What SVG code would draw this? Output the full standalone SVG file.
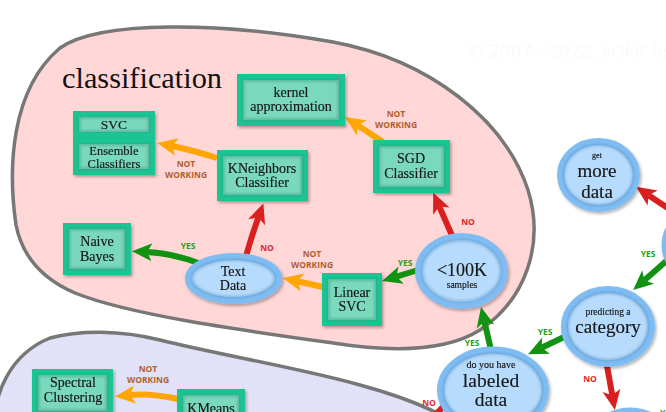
<svg xmlns="http://www.w3.org/2000/svg" width="666" height="412" viewBox="0 0 666 412">
<defs>
<style>
.blob{stroke:#777;stroke-width:3.5}
.sh{fill:none;stroke-width:6;stroke-linecap:butt}
.og{stroke:#ffa500}.gr{stroke:#119311}.rd{stroke:#d9201e}
.lb{font-family:"Open Sans","DejaVu Sans",sans-serif;font-weight:bold;font-size:8.5px;text-anchor:middle}
.nw{fill:#b0602e}.ys{fill:#26a017}.no{fill:#dd2a2a}
.nt{font-family:"Liberation Serif","Times New Roman",serif;font-size:14px;fill:#141414;stroke:#141414;stroke-width:0.15;text-anchor:middle}
rect.b{fill:#7ad8bd;stroke:#1cc493;stroke-width:6}
rect.s{fill:none;stroke:#2f8f72;stroke-width:2.5;opacity:.45}
ellipse.b{fill:#b6dbfc;stroke:#7ebcf2;stroke-width:7}
ellipse.s{fill:none;stroke:#4f86b8;stroke-width:2.5;opacity:.4}
</style>
<filter id="sh" x="-20%" y="-20%" width="140%" height="140%"><feDropShadow dx="1.5" dy="2" stdDeviation="1.5" flood-color="#000" flood-opacity="0.3"/></filter>
<filter id="bl" x="-10%" y="-10%" width="120%" height="120%"><feGaussianBlur stdDeviation="1"/></filter>
<marker id="mg" markerUnits="userSpaceOnUse" viewBox="0 -10 22 20" markerWidth="22" markerHeight="20" refX="5" refY="0" orient="auto" overflow="visible"><path d="M0,-9 L20,0 L0,9 L5,0 Z" fill="#119311"/></marker>
<marker id="mo" markerUnits="userSpaceOnUse" viewBox="0 -10 22 20" markerWidth="22" markerHeight="20" refX="5" refY="0" orient="auto" overflow="visible"><path d="M0,-9 L20,0 L0,9 L5,0 Z" fill="#ffa500"/></marker>
<marker id="mr" markerUnits="userSpaceOnUse" viewBox="0 -10 22 20" markerWidth="22" markerHeight="20" refX="5" refY="0" orient="auto" overflow="visible"><path d="M0,-9 L20,0 L0,9 L5,0 Z" fill="#d9201e"/></marker>
</defs>
<rect width="666" height="412" fill="#fff"/>
<text x="468" y="57" font-family="Open Sans, DejaVu Sans, sans-serif" font-size="19" fill="#fafafa">© 2007 - 2022, scikit-learn developers (BSD License).</text>

<g id="classification-region">
<path class="blob" fill="#ffd7d7" d="M16,225 C8,170 10,90 60,48 C100,20 220,22 333,42 C430,60 505,120 528,190 C545,245 525,300 480,330 C445,352 390,352 333,343 C240,330 130,315 75,293 C40,278 22,255 16,225 Z"/>
<text x="62" y="88" font-family="Liberation Serif, Times New Roman, serif" font-size="30" fill="#111" textLength="160" lengthAdjust="spacingAndGlyphs">classification</text>
</g>
<g id="clustering-region">
<path class="blob" fill="#e1e1f7" d="M-6,420 C-4,395 8,355 50,338 C80,330 120,330 160,340 C220,355 300,368 360,385 C400,396 430,408 450,420 Z"/>
</g>

<g id="connectors">
<path class="sh og" d="M217,158 Q192,150 172,146" marker-end="url(#mo)"/>
<text class="lb nw" x="186" y="167">NOT</text><text class="lb nw" x="186" y="178">WORKING</text>
<path class="sh og" d="M383,142 L357.6,125.2" marker-end="url(#mo)"/>
<text class="lb nw" x="396" y="117">NOT</text><text class="lb nw" x="396" y="128">WORKING</text>
<path class="sh rd" d="M454,240 L439.3,206.6" marker-end="url(#mr)"/>
<text class="lb no" x="468" y="225">NO</text>
<path class="sh gr" d="M418,270 L396.4,276.6" marker-end="url(#mg)"/>
<text class="lb ys" x="405" y="266">YES</text>
<path class="sh og" d="M323,287 L297.6,281.3" marker-end="url(#mo)"/>
<text class="lb nw" x="312" y="257">NOT</text><text class="lb nw" x="312" y="268">WORKING</text>
<path class="sh rd" d="M246,256 Q252,235 258.3,217.5" marker-end="url(#mr)"/>
<text class="lb no" x="267" y="251">NO</text>
<path class="sh gr" d="M198,263 C180,256 165,253 147,252" marker-end="url(#mg)"/>
<text class="lb ys" x="188" y="249">YES</text>
<path class="sh gr" d="M491,350 L484.4,321.6" marker-end="url(#mg)"/>
<text class="lb ys" x="472" y="346">YES</text>
<path class="sh gr" d="M564,337 L541.6,347.8" marker-end="url(#mg)"/>
<text class="lb ys" x="545" y="335">YES</text>
<path class="sh gr" d="M672,256 L644.4,280.2" marker-end="url(#mg)"/>
<text class="lb ys" x="648" y="257">YES</text>
<path class="sh rd" d="M672,211 L648.5,195.2" marker-end="url(#mr)"/>
<path class="sh rd" d="M607,366 L612.3,395.3" marker-end="url(#mr)"/>
<text class="lb no" x="590" y="382">NO</text>
<path class="sh rd" d="M447,403 L428,422" marker-end="url(#mr)"/>
<text class="lb no" x="429" y="406">NO</text>
<path class="sh og" d="M178,399 Q150,393 130,395" marker-end="url(#mo)"/>
<text class="lb nw" x="148" y="372">NOT</text><text class="lb nw" x="148" y="383">WORKING</text>
<text class="lb ys" x="660" y="416" style="text-anchor:start">YES</text>
</g>

<g id="kernel-approximation" filter="url(#sh)"><rect class="b" x="240" y="77" width="102" height="46"/><rect class="s" x="243.5" y="80.5" width="95" height="39" filter="url(#bl)"/><text class="nt" x="291" y="97">kernel</text><text class="nt" x="291" y="111">approximation</text></g>
<g id="svc" filter="url(#sh)"><rect class="b" x="76" y="114" width="76" height="21"/><rect class="s" x="79.5" y="117.5" width="69" height="14" filter="url(#bl)"/><text class="nt" x="114" y="129" style="font-size:13.5px">SVC</text></g>
<g id="ensemble-classifiers" filter="url(#sh)"><rect class="b" x="76" y="141" width="76" height="31"/><rect class="s" x="79.5" y="144.5" width="69" height="24" filter="url(#bl)"/><text class="nt" x="114" y="155" style="font-size:12.5px">Ensemble</text><text class="nt" x="114" y="168" style="font-size:12.5px">Classifiers</text></g>
<g id="kneighbors-classifier" filter="url(#sh)"><rect class="b" x="220" y="153" width="85" height="45"/><rect class="s" x="223.5" y="156.5" width="78" height="38" filter="url(#bl)"/><text class="nt" x="262" y="173">KNeighbors</text><text class="nt" x="262" y="187">Classifier</text></g>
<g id="sgd-classifier" filter="url(#sh)"><rect class="b" x="376" y="143" width="71" height="47"/><rect class="s" x="379.5" y="146.5" width="64" height="40" filter="url(#bl)"/><text class="nt" x="411" y="163">SGD</text><text class="nt" x="411" y="178">Classifier</text></g>
<g id="naive-bayes" filter="url(#sh)"><rect class="b" x="66" y="226" width="62" height="46"/><rect class="s" x="69.5" y="229.5" width="55" height="39" filter="url(#bl)"/><text class="nt" x="97" y="246">Naive</text><text class="nt" x="97" y="261">Bayes</text></g>
<g id="linear-svc" filter="url(#sh)"><rect class="b" x="325" y="276" width="54" height="47"/><rect class="s" x="328.5" y="279.5" width="47" height="40" filter="url(#bl)"/><text class="nt" x="352" y="297">Linear</text><text class="nt" x="352" y="311">SVC</text></g>
<g id="spectral-clustering" filter="url(#sh)"><rect class="b" x="35" y="372" width="75" height="42"/><rect class="s" x="38.5" y="375.5" width="68" height="35" filter="url(#bl)"/><text class="nt" x="73" y="387">Spectral</text><text class="nt" x="73" y="402">Clustering</text></g>
<g id="kmeans" filter="url(#sh)"><rect class="b" x="180" y="392" width="62" height="34"/><rect class="s" x="183.5" y="395.5" width="55" height="27" filter="url(#bl)"/><text class="nt" x="211" y="413">KMeans</text></g>

<g id="text-data" filter="url(#sh)"><ellipse class="b" cx="233.5" cy="278.5" rx="45" ry="22"/><ellipse class="s" cx="233.5" cy="278.5" rx="41" ry="18.5" filter="url(#bl)"/><text class="nt" x="233" y="276">Text</text><text class="nt" x="233" y="290">Data</text></g>
<g id="samples-100k" filter="url(#sh)"><ellipse class="b" cx="461.5" cy="271" rx="43" ry="34.5"/><ellipse class="s" cx="461.5" cy="271" rx="39" ry="30.5" filter="url(#bl)"/><text class="nt" x="462" y="276" style="font-size:18px">&lt;100K</text><text class="nt" x="462" y="288" style="font-size:9.5px">samples</text></g>
<g id="get-more-data" filter="url(#sh)"><ellipse class="b" cx="598.5" cy="175" rx="38" ry="33.5"/><ellipse class="s" cx="598.5" cy="175" rx="34.5" ry="30" filter="url(#bl)"/><text class="nt" x="597" y="158" style="font-size:8px">get</text><text class="nt" x="597" y="177" style="font-size:19px">more</text><text class="nt" x="597" y="198" style="font-size:19px">data</text></g>
<g id="predicting-category" filter="url(#sh)"><ellipse class="b" cx="608" cy="326.5" rx="43.5" ry="37"/><ellipse class="s" cx="608" cy="326.5" rx="40" ry="33.5" filter="url(#bl)"/><text class="nt" x="608" y="315" style="font-size:9.5px">predicting a</text><text class="nt" x="608" y="333" style="font-size:19px">category</text></g>
<g id="labeled-data" filter="url(#sh)"><ellipse class="b" cx="493" cy="390" rx="52.5" ry="40"/><ellipse class="s" cx="493" cy="390" rx="49" ry="36.5" filter="url(#bl)"/><text class="nt" x="491" y="368" style="font-size:10px">do you have</text><text class="nt" x="491" y="387" style="font-size:19.5px">labeled</text><text class="nt" x="491" y="406" style="font-size:19.5px">data</text></g>
<g id="right-node" filter="url(#sh)"><ellipse class="b" cx="712" cy="245" rx="47" ry="40"/></g>
<g id="bottom-right-node" filter="url(#sh)"><ellipse class="b" cx="630" cy="452" rx="44" ry="41"/></g>
</svg>
